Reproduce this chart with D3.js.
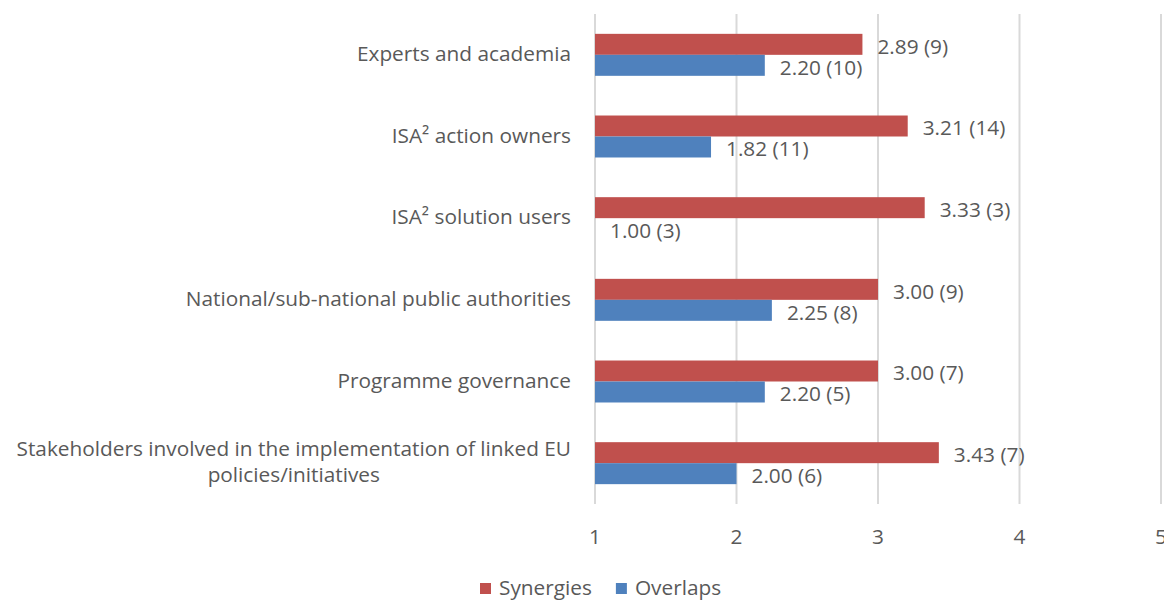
<!DOCTYPE html>
<html>
<head>
<meta charset="utf-8">
<script src="https://cdn.jsdelivr.net/npm/d3@7"></script>
<style>
    body { margin: 0; background: #ffffff; }
    svg { display: block; }
    text { font-family: "Open Sans", sans-serif; fill: #595959; }
</style>
</head>
<body>
<svg id="chart" width="1164" height="600"></svg>
<script>
// chart data
const categories = [
    "Experts and academia",
    "ISA² action owners",
    "ISA² solution users",
    "National/sub-national public authorities",
    "Programme governance",
    "Stakeholders involved in the implementation of linked EU\npolicies/initiatives"
];
const synergies = [2.89, 3.21, 3.33, 3.00, 3.00, 3.43];
const synergies_n = [9, 14, 3, 9, 7, 7];
const overlaps = [2.20, 1.82, 1.00, 2.25, 2.20, 2.00];
const overlaps_n = [10, 11, 3, 8, 5, 6];
const series_names = ["Synergies", "Overlaps"];
const series_colors = ["#c0504d", "#4f81bd"];
const x_ticks = [1, 2, 3, 4, 5];

const font_size = 20.8;
const svg = d3.select("#chart");

const x = d3.scaleLinear().domain([1, 5]).range([595, 1161]);
const y = d3.scaleBand().domain(categories).range([14, 504]).paddingInner(0.486).paddingOuter(0.243);
const sub = d3.scaleBand().domain(series_names).range([0, y.bandwidth()]);

// gridlines
svg.append("g")
    .selectAll("line")
    .data(x_ticks)
    .enter()
    .append("line")
    .attr("x1", d => x(d))
    .attr("x2", d => x(d))
    .attr("y1", 14)
    .attr("y2", 504)
    .style("stroke", "#d9d9d9")
    .style("stroke-width", 2);

// tick labels
svg.append("g")
    .selectAll("text")
    .data(x_ticks)
    .enter()
    .append("text")
    .attr("x", d => x(d))
    .attr("y", 537)
    .attr("dy", "0.35em")
    .attr("text-anchor", "middle")
    .style("font-size", font_size + "px")
    .text(d => d);

// bars
const rows = categories.map((c, i) => ({
    cat: c,
    values: [
        {name: series_names[0], val: synergies[i], n: synergies_n[i], color: series_colors[0]},
        {name: series_names[1], val: overlaps[i], n: overlaps_n[i], color: series_colors[1]}
    ]
}));

const groups = svg.append("g")
    .selectAll("g")
    .data(rows)
    .enter()
    .append("g")
    .attr("transform", d => "translate(0," + y(d.cat) + ")");

groups.selectAll("rect")
    .data(d => d.values)
    .enter()
    .append("rect")
    .attr("x", x(1))
    .attr("y", d => sub(d.name))
    .attr("width", d => x(d.val) - x(1))
    .attr("height", sub.bandwidth())
    .style("fill", d => d.color);

groups.selectAll("text.val")
    .data(d => d.values)
    .enter()
    .append("text")
    .attr("class", "val")
    .attr("x", d => x(d.val) + 15)
    .attr("y", d => sub(d.name) + sub.bandwidth() / 2 + 2)
    .attr("dy", "0.35em")
    .style("font-size", font_size + "px")
    .text(d => d.val.toFixed(2) + " (" + d.n + ")");

// category labels
svg.append("g")
    .selectAll("text")
    .data(categories)
    .enter()
    .append("text")
    .attr("y", d => y(d) + y.bandwidth() / 2)
    .style("font-size", font_size + "px")
    .each(function(d) {
        const lines = d.split("\n");
        const el = d3.select(this);
        const line_h = 26;
        lines.forEach((l, i) => {
            el.append("tspan")
                .attr("y", y(d) + y.bandwidth() / 2 - 1 + (i - (lines.length - 1) / 2) * line_h)
                .attr("dy", "0.35em")
                .text(l);
        });
        // right align the block, centre the lines within it
        const spans = el.selectAll("tspan").nodes();
        const block = d3.max(spans, s => s.getComputedTextLength());
        spans.forEach(s => {
            d3.select(s)
                .attr("x", 571 - block / 2)
                .attr("text-anchor", "middle");
        });
    });

// legend
const legend = svg.append("g");
let lx = 480;
series_names.forEach((name, i) => {
    legend.append("rect")
        .attr("x", lx)
        .attr("y", 583)
        .attr("width", 11)
        .attr("height", 11)
        .style("fill", series_colors[i]);
    const t = legend.append("text")
        .attr("x", lx + 19)
        .attr("y", 588)
        .attr("dy", "0.35em")
        .style("font-size", font_size + "px")
        .text(name);
    lx = lx + 19 + t.node().getComputedTextLength() + 24;
});
</script>
</body>
</html>
